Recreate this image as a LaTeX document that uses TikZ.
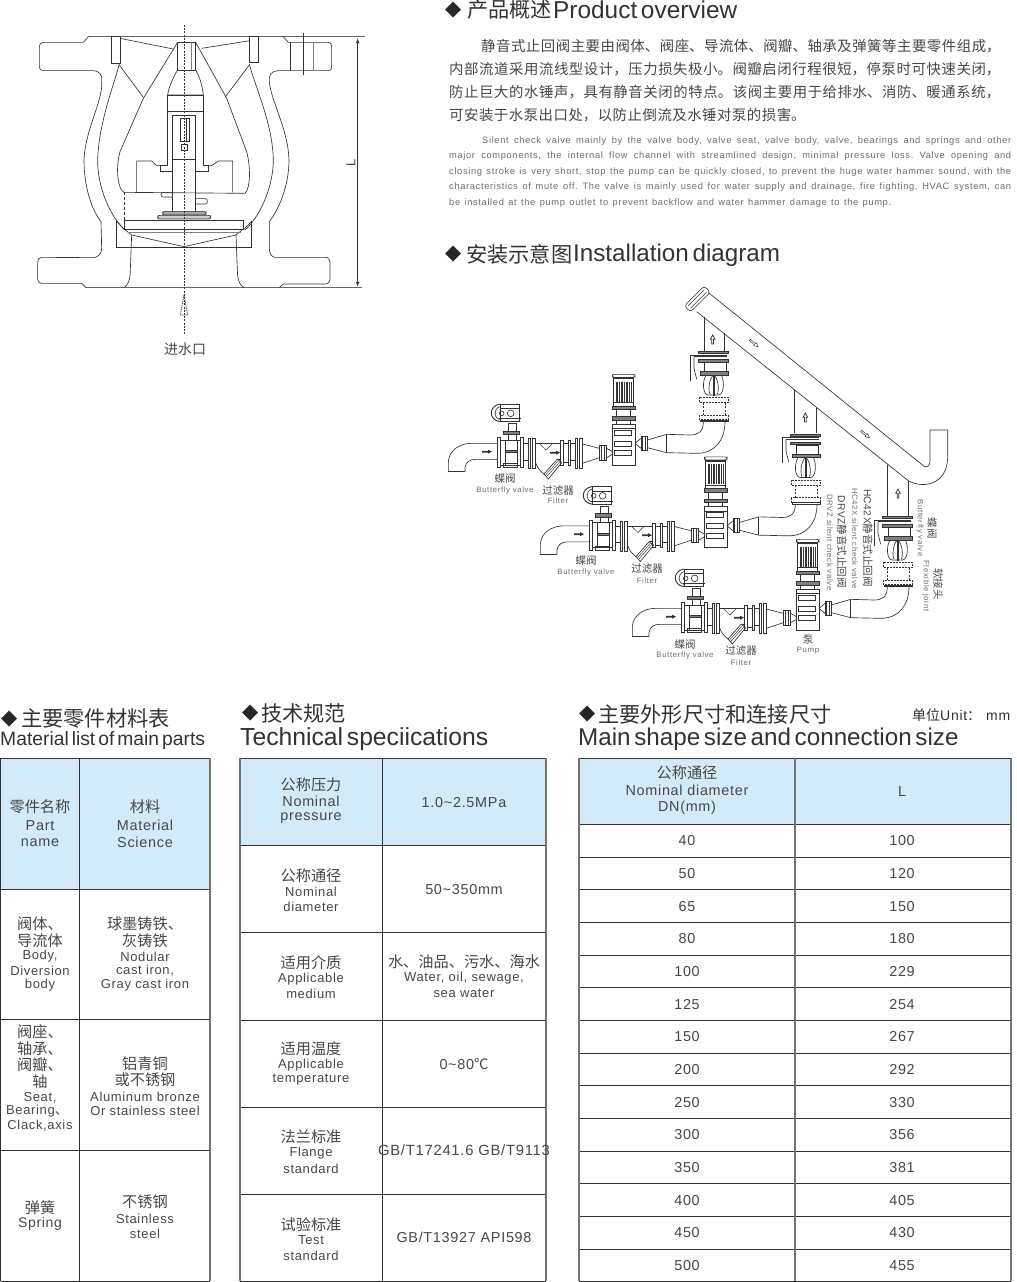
\documentclass[tikz,border=0pt]{standalone}
\usepackage{fontspec}
\setmainfont{Liberation Sans}
\newfontfamily\cjkf{Noto Sans CJK SC}
\newfontfamily\symf{DejaVu Sans}
\newfontfamily\hdf[WordSpace=0.55]{Liberation Sans}
\newfontfamily\lsf[LetterSpace=8]{Liberation Sans}
\newfontfamily\bdf[LetterSpace=7,WordSpace=0.9]{Liberation Sans}
\newfontfamily\tlf[LetterSpace=5]{Liberation Sans}
\definecolor{ink}{HTML}{333333}
\definecolor{txt}{HTML}{484848}
\definecolor{soft}{HTML}{6E6E6E}
\definecolor{head}{HTML}{D3EAF8}
\newcount\nid
\newcommand\zh[2]{{\cjkf\fontsize{#1}{#1}\selectfont #2}}
\newcommand\en[2]{{\tlf\fontsize{#1}{#1}\selectfont #2}}
% centred cell text
\newcommand\T[4]{\global\advance\nid by 1 \node[lab,text=txt] (t\the\nid) at (#1,#2+.4) {\en{#3}{#4}};}
\newcommand\Z[4]{\global\advance\nid by 1 \node[lab,text=txt] (t\the\nid) at (#1,#2) {\zh{#3}{#4}};}
\newcommand\St[4]{\global\advance\nid by 1 \node[lab,text=soft] (t\the\nid) at (#1,#2) {\lsf\fontsize{#3}{#3}\selectfont #4};}
% justified lines
\newcommand\ZL[4]{\global\advance\nid by 1 \node[anchor=west,inner sep=0pt,text=txt,text width=#3pt] (t\the\nid) at (#1,#2) {\cjkf\fontsize{14.4}{18}\selectfont\XeTeXlinebreaklocale "zh"\XeTeXlinebreakskip=0pt plus 4pt\relax\parfillskip=0pt\relax\pretolerance=-1\tolerance=10000\relax #4\par};}
\newcommand\EL[4]{\global\advance\nid by 1 \node[anchor=west,inner sep=0pt,text=soft] (t\the\nid) at (#1,#2) {\makebox[#3pt][s]{\bdf\frenchspacing\fontsize{9.3}{11}\selectfont #4}};}
% headings
\newcommand\Dm[3]{\global\advance\nid by 1 \node[anchor=west,inner sep=0pt,text=black!85] (t\the\nid) at (#1,#2) {\symf\fontsize{#3}{#3}\selectfont ◆};}
\newcommand\HL[3]{\global\advance\nid by 1 \node[anchor=west,inner sep=0pt,text=ink] (t\the\nid) at (#1,#2) {#3};}
\newcommand\hz[1]{\zh{21.2}{#1}}
\newcommand\he[2]{{\hdf\fontsize{#1}{#1}\selectfont #2}}
\tikzset{lab/.style={inner sep=0pt,align=center},
 ln/.style={draw=ink,line width=.65pt},
 thin2/.style={draw=ink,line width=.45pt},
 grid/.style={draw=ink,line width=.8pt},
 edge2/.style={draw=black!55,line width=1.1pt},
 hdr/.style={fill=head,draw=none},
 dk/.style={fill=black!50,draw=ink,line width=.4pt}}
\newcommand\uparrowhollow[2]{\draw[ln,line width=.75pt,fill=white] (#1-2.5,#2+14) -- (#1-2.5,#2) -- (#1-7,#2) -- (#1,#2-13) -- (#1+7,#2) -- (#1+2.5,#2) -- (#1+2.5,#2+14) -- cycle;}
\newcommand\rightarrowsolid[2]{\fill[ink] (#1,#2-2.5) -- (#1+18,#2-2.5) -- (#1+18,#2-6) -- (#1+30,#2) -- (#1+18,#2+6) -- (#1+18,#2+2.5) -- (#1,#2+2.5) -- cycle;}
\newcommand\pumpset{%
 % inlet elbow
 \path[ln] (25,575) -- (25,545) .. controls (27,510) and (60,490) .. (95,490) -- (172,490);
 \path[ln] (75,575) -- (75,562) .. controls (78,545) and (90,538) .. (108,538) -- (172,538);
 \path[ln] (25,575) -- (75,575);
 \rightarrowsolid{126}{515}
 % butterfly valve body
 \path[ln] (172,472) rectangle (182,562);
 \path[ln] (240,472) rectangle (250,562);
 \path[ln] (182,480) rectangle (240,555);
 \path[ln] (195,480) -- (195,555) (232,480) -- (232,555);
 \path[dk] (195,512) rectangle (232,518);
 \path[ln] (190,550) rectangle (232,563);
 \path[ln] (205,430) rectangle (230,453);
 \path[dk] (190,453) rectangle (237,463);
 \path[ln] (205,463) -- (205,480) (230,463) -- (230,480);
 % actuator head
 \path[ln] (180,372) rectangle (237,425);
 \path[ln,line width=.9pt] (180,372) .. controls (145,378) and (145,420) .. (180,425);
 \path[ln] (180,380) .. controls (160,385) and (160,415) .. (180,418);
 \path[ln] (212,400) circle (10);
 \path[ln] (185,400) circle (7);
 \path[ln] (180,385) -- (237,385) (178,415) -- (242,415);
 % next flange
 \path[ln] (250,490) -- (265,490) (250,540) -- (265,540);
 \path[ln] (265,475) rectangle (272,565);
 \path[ln] (277,475) rectangle (285,565);
 % Y strainer
 \path[ln] (285,490) -- (362,490);
 \path[thin2] (300,493) -- (318,510) -- (335,493);
 \path[ln] (285,540) .. controls (290,565) and (300,572) .. (313,583);
 \path[ln] (352,537) -- (362,537);
 \path[ln,fill=white] (312,582) -- (352,537) -- (365,548) -- (325,597) -- cycle;
 \path[thin2] (316,586) -- (356,541) (320,590) -- (360,545);
 \rightarrowsolid{330}{518}
 % flanges
 \path[ln] (362,482) rectangle (370,555);
 \path[ln] (385,482) rectangle (390,555);
 \path[ln] (370,490) rectangle (385,548);
 \path[ln] (390,490) -- (405,490) (390,540) -- (405,540);
 \path[ln] (405,475) rectangle (413,565);
 \path[ln] (417,475) rectangle (427,565);
 % reducer to pump
 \path[ln] (427,492) -- (478,505) (427,550) -- (478,533);
 \path[ln] (478,497) rectangle (500,540);
 \path[ln] (484,497) -- (484,540) (494,497) -- (494,540);
 \path[ln] (500,505) -- (517,515) (500,533) -- (517,523);
 % pump
 \path[ln] (517,432) rectangle (585,555);
 \path[ln] (517,445) -- (585,445);
 \path[ln,line width=.8pt] (524,450) rectangle (575,465);
 \path[ln,line width=.8pt] (524,483) rectangle (575,498);
 \path[ln,line width=.8pt] (524,512) rectangle (575,527);
 \path[ln] (530,420) -- (530,432) (572,420) -- (572,432);
 \path[dk] (517,410) rectangle (585,420);
 \path[ln] (530,388) -- (530,410) (572,388) -- (572,410);
 \path[dk] (517,378) rectangle (585,388);
 % motor
 \path[ln,rounded corners=2] (517,283) rectangle (585,292);
 \path[ln] (521,292) rectangle (581,378);
 \path[ln] (521,295) -- (581,295) (521,368) -- (581,368);
 \foreach \mx in {528,533,538,543,548,553,558,563,568,573}{\path[draw=ink,line width=.8pt] (\mx,305) -- (\mx,365);}
 % outlet
 \path[ln] (585,490) -- (603,475) (585,490) -- (603,505);
 \path[ln] (603,468) rectangle (622,510);
 \path[ln] (608,468) -- (608,510) (617,468) -- (617,510);
 \path[ln] (622,480) -- (680,463) (622,503) -- (680,518);
 \path[ln] (680,463) -- (680,518);
 \path[ln] (680,463) -- (750,465) .. controls (775,465) and (790,455) .. (790,425);
 \path[ln] (680,518) -- (770,520) .. controls (825,520) and (855,480) .. (855,425);
 % flexible joint
 \path[ln] (780,420) rectangle (865,425);
 \path[ln,dash pattern=on 2pt off 1pt] (778,405) rectangle (865,418);
 \path[ln,dash pattern=on 2pt off 1pt] (778,352) rectangle (865,368);
 \path[ln,dash pattern=on 2pt off 1.5pt] (790,368) -- (790,405) (855,368) -- (855,405);
 % check valve
 \path[ln] (797,287) .. controls (785,310) and (790,345) .. (805,345) -- (835,345) .. controls (850,345) and (855,310) .. (845,287);
 \path[ln] (820,285) .. controls (805,300) and (805,335) .. (810,342) (822,285) .. controls (837,300) and (837,335) .. (832,342);
 \path[dk] (819,287) rectangle (824,345);
 \path[dk] (780,275) rectangle (865,285);
 \path[ln] (792,247) rectangle (858,275);
 \path[dk] (775,238) rectangle (865,246);
 \path[dk] (775,214) rectangle (865,221);
 \path[ln] (750,302) -- (750,225) -- (860,225) (762,230) -- (860,230);
 \path[ln] (762,265) -- (770,298) (762,230) -- (762,265);
}
\begin{document}
\begin{tikzpicture}[x=1pt,y=-1pt]
\useasboundingbox (0,0) rectangle (1017,1282);
\fill[white] (0,0) rectangle (1017,1282);
% ---------- valve section (crop coordinates)
\begin{scope}[shift={(0,20)},x=.33333pt,y=-.33333pt]
 \path[draw=black!60,line width=.9pt] (265,50) -- (1095,50);
 \path[draw=black!60,line width=.9pt] (258,803) -- (1085,803);
 \path[ln] (265,50) -- (250,67) -- (130,67) .. controls (122,67) and (118,72) .. (118,80) -- (118,140) .. controls (118,148) and (122,152) .. (130,152) -- (280,152) .. controls (298,152) and (308,165) .. (305,185) .. controls (310,240) and (255,330) .. (252,420) .. controls (252,500) and (275,570) .. (303,605) -- (305,685) .. controls (305,700) and (295,712) .. (280,713) -- (125,712) .. controls (117,712) and (113,718) .. (113,726) -- (113,778) .. controls (113,786) and (118,790) .. (125,790) -- (245,790) -- (258,803);
 \path[ln] (850,50) -- (865,67) -- (985,67) .. controls (992,67) and (995,72) .. (995,80) -- (995,140) .. controls (995,148) and (992,152) .. (985,152) -- (835,152) .. controls (815,152) and (805,165) .. (808,185) .. controls (812,240) and (865,330) .. (867,420) .. controls (867,500) and (835,570) .. (808,605) -- (808,685) .. controls (808,700) and (815,712) .. (825,712) -- (975,712) .. controls (985,712) and (990,718) .. (990,726) -- (990,778) .. controls (990,786) and (985,792) .. (975,792) -- (850,792) -- (838,803);
 % inner wall
 \path[ln] (358,132) .. controls (340,200) and (296,310) .. (293,420) .. controls (292,500) and (330,590) .. (375,630);
 \path[ln] (748,132) .. controls (765,200) and (818,310) .. (820,420) .. controls (820,500) and (780,590) .. (735,630);
 % inlet
 \path[ln] (395,645) -- (391,750) .. controls (390,780) and (385,795) .. (372,803);
 \path[ln] (708,645) -- (712,750) .. controls (713,780) and (718,795) .. (732,803);
 % seat and disc
 \path[ln] (350,603) -- (350,682) -- (755,682) -- (755,603);
 \path[ln] (350,603) -- (372,628) (755,603) -- (732,628);
 \path[ln] (372,600) -- (730,600) -- (730,627) -- (372,627) -- cycle;
 \path[ln] (372,627) -- (395,645) (730,627) -- (708,645);
 \path[draw=black!50,line width=.6pt] (383,637) -- (722,637);
 \path[ln] (395,645) -- (552,680) -- (708,645);
 % ribs and seats
 \path[ln] (335,50) rectangle (360,130);
 \path[ln] (748,50) rectangle (775,128);
 \path[ln] (360,55) -- (520,87) (750,62) -- (605,85);
 \path[ln] (358,135) -- (430,232) (748,135) -- (675,232);
 % guide
 \path[ln] (533,67) -- (430,235) -- (360,395) .. controls (345,450) and (355,510) .. (372,517) -- (735,520) .. controls (752,505) and (752,440) .. (740,395) -- (680,235) -- (587,67);
 \path[ln] (533,67) rectangle (587,150);
 \path[draw=black!50,line width=.6pt] (575,67) -- (575,150);
 \path[ln] (533,150) .. controls (520,170) and (505,205) .. (503,225) -- (610,225) .. controls (608,205) and (600,170) .. (587,150);
 \path[ln] (503,225) rectangle (610,275);
 \path[ln] (503,275) -- (503,437) -- (480,437) -- (480,455) -- (518,455);
 \path[ln] (610,275) -- (610,437) -- (625,437) -- (625,455) -- (587,455);
 \path[ln] (518,575) -- (518,285) -- (587,285) -- (587,575);
 \path[ln] (518,418) -- (587,418);
 \path[ln] (540,295) rectangle (567,365);
 \path[ln] (558,295) -- (558,365);
 \path[ln] (545,372) rectangle (562,390);
 % spring housing
 \path[ln] (410,517) -- (410,423) -- (455,423) -- (470,437) -- (503,437);
 \path[ln] (698,517) -- (698,423) -- (655,423) -- (635,437) -- (610,437);
 \path[ln,dash pattern=on 3pt off 2pt] (372,517) -- (372,600);
 \path[ln,rounded corners=2] (518,517) -- (483,517) -- (483,531) -- (518,531);
 \path[ln,rounded corners=2] (587,536) -- (622,536) -- (622,552) -- (587,552);
 \path[ln,fill=black!35,rounded corners=2] (488,574) rectangle (618,585);
 \path[ln,fill=black!20,rounded corners=2] (473,586) rectangle (632,597);
 % right bolt
 \path[ln] (870,67) -- (870,152);
 \path[draw=black!50,line width=.9pt] (940,67) -- (940,152);
 \path[ln] (910,40) -- (910,165);
 % dimension
 \coordinate (dimA) at (1073,55);
 \coordinate (dimB) at (1073,800);
 \path[ln,line width=.7pt,<->,>=latex] (dimA) -- (dimB);
 % centre line and inlet mark
 \path[draw=ink,line width=.5pt,dash pattern=on 2pt off 1.2pt] (553,15) -- (553,945);
 \path[draw=ink,line width=.65pt,dash pattern=on 1.2pt off .8pt] (552,825) -- (541,885) -- (563,885) -- cycle;
\end{scope}
\node[lab,text=txt,rotate=90] (dimL) at (351,163) {\en{13}{L}};
\Z{185}{349}{14}{进水口}
% ---------- text block
\Dm{445}{10}{21}
\HL{467}{10}{\hz{产品概述}}
\HL{553}{10}{\he{24.4}{Product overview}}
\ZL{481}{46}{522}{静音式止回阀主要由阀体、阀座、导流体、阀瓣、轴承及弹簧等主要零件组成，}
\ZL{449}{69}{554}{内部流道采用流线型设计，压力损失极小。阀瓣启闭行程很短，停泵时可快速关闭，}
\ZL{449}{92}{554}{防止巨大的水锤声，具有静音关闭的特点。该阀主要用于给排水、消防、暖通系统，}
\ZL{449}{115}{359}{可安装于水泵出口处，以防止倒流及水锤对泵的损害。}
\EL{482}{141}{529}{Silent check valve mainly by the valve body, valve seat, valve body, valve, bearings and springs and other}
\EL{449}{156.5}{562}{major components, the internal flow channel with streamlined design, minimal pressure loss. Valve opening and}
\EL{449}{172}{562}{closing stroke is very short, stop the pump can be quickly closed, to prevent the huge water hammer sound, with the}
\EL{449}{187.5}{562}{characteristics of mute off. The valve is mainly used for water supply and drainage, fire fighting, HVAC system, can}
\EL{449}{203}{442}{be installed at the pump outlet to prevent backflow and water hammer damage to the pump.}
\Dm{445}{254}{21}
\HL{466}{254}{\hz{安装示意图}}
\HL{573}{255.5}{\he{24.2}{Installation diagram}}
% ---------- installation: three sets
\begin{scope}[shift={(440,280)},x=.33333pt,y=-.33333pt]\pumpset\end{scope}
\begin{scope}[shift={(532,362.5)},x=.33333pt,y=-.33333pt]\pumpset\end{scope}
\begin{scope}[shift={(624,445)},x=.33333pt,y=-.33333pt]\pumpset\end{scope}
% main pipe and risers
\begin{scope}[shift={(680,280)},x=.33333pt,y=-.33333pt]
 \path[ln,fill=white,rotate around={45:(52,57)},rounded corners=3pt] (10,44) rectangle (94,70);
 \path[thin2,rotate around={45:(52,57)}] (18,52) -- (86,52) (18,62) -- (86,62);
 \path[ln] (88,40) -- (725,553) .. controls (738,568) and (750,562) .. (750,540) -- (750,450) -- (803,450) -- (803,535) .. controls (800,610) and (735,628) .. (686,603) -- (50,95);
 \path[ln] (72,110) -- (72,215) (133,158) -- (133,215);
 \path[ln] (342,330) -- (342,460) (408,382) -- (408,460);
 \path[ln] (622,555) -- (622,710) (686,603) -- (686,710);
 \uparrowhollow{98}{178}
 \uparrowhollow{376}{412}
 \uparrowhollow{654}{640}
 \begin{scope}[shift={(222,190)},rotate=-39]
  \path[thin2] (-16,-2.5) -- (4,-2.5) -- (4,-6) -- (16,0) -- (4,6) -- (4,2.5) -- (-16,2.5) -- cycle;
 \end{scope}
 \begin{scope}[shift={(556,463)},rotate=-39]
  \path[thin2] (-16,-2.5) -- (4,-2.5) -- (4,-6) -- (16,0) -- (4,6) -- (4,2.5) -- (-16,2.5) -- cycle;
 \end{scope}
\end{scope}
% labels
\Z{505}{479}{10.5}{蝶阀}\St{505}{490}{7.8}{Butterfly valve}
\Z{558}{491}{10.5}{过滤器}\St{558}{501}{7.8}{Filter}
\Z{586}{561}{10.5}{蝶阀}\St{586}{572}{7.8}{Butterfly valve}
\Z{647}{569}{10.5}{过滤器}\St{647}{581}{7.8}{Filter}
\Z{685}{645}{10.5}{蝶阀}\St{685}{655}{7.8}{Butterfly valve}
\Z{741}{651}{10.5}{过滤器}\St{741}{663}{7.8}{Filter}
\Z{808}{640}{10.5}{泵}\St{808}{651}{7.8}{Pump}
\node[lab,text=txt,rotate=-90] (rA) at (868,538) {\en{10.2}{HC42X}\zh{10.5}{静音式止回阀}};
\node[lab,text=soft,rotate=-90] (rB) at (855,538.5) {\lsf\fontsize{7.8}{8}\selectfont HC42X silent check valve};
\node[lab,text=txt,rotate=-90] (rC) at (842,541.5) {\en{10.2}{DRVZ}\zh{10.5}{静音式止回阀}};
\node[lab,text=soft,rotate=-90] (rD) at (830,542.5) {\lsf\fontsize{7.8}{8}\selectfont DRVZ silent check valve};
\node[lab,text=txt,rotate=-90] (rE) at (932,528) {\zh{10.5}{蝶阀}};
\node[lab,text=soft,rotate=-90] (rF) at (920,528) {\lsf\fontsize{7.8}{8}\selectfont Butterfly valve};
\node[lab,text=txt,rotate=-90] (rG) at (938,584) {\zh{10.5}{软接头}};
\node[lab,text=soft,rotate=-90] (rH) at (926,586) {\lsf\fontsize{7.8}{8}\selectfont Flexible joint};
% ---------- table headings
\Dm{1}{719}{21}
\HL{21}{719}{\hz{主要零件材料表}}
\HL{0}{741}{\he{19.3}{Material list of main parts}}
\Dm{242}{713}{21}
\HL{261}{713}{\hz{技术规范}}
\HL{240}{739.5}{\he{24.7}{Technical speciications}}
\Dm{579}{714}{21}
\HL{598}{714}{\hz{主要外形尺寸和连接尺寸}}
\HL{578}{739.5}{\he{24.2}{Main shape size and connection size}}
\HL{912}{715}{\zh{14}{单位}\en{14}{Unit}\zh{14}{：}\hspace{5pt}\en{14}{mm}}
% ---------- table 1
\path[hdr] (0.5,758) rectangle (210,889);
\path[grid] (0.5,758) -- (210,758) (0.5,889) -- (210,889) (0.5,1019) -- (210,1019) (0.5,1150) -- (210,1150) (0.5,1281) -- (210,1281);
\path[grid] (0.5,758) -- (0.5,1281) (79,758) -- (79,1281);
\path[edge2] (210,758) -- (210,1281);
\Z{40}{807}{15.2}{零件名称}\T{40}{825}{14.4}{Part}\T{40}{842}{14.4}{name}
\Z{145}{807}{15.2}{材料}\T{145}{825}{14.4}{Material}\T{145}{842}{14.4}{Science}
\Z{40}{924}{15.2}{阀体、}\Z{40}{941}{15.2}{导流体}\T{40}{956}{13}{Body,}\T{40}{970}{13}{Diversion}\T{40}{985}{13}{body}
\Z{145}{924}{15.2}{球墨铸铁、}\Z{145}{941}{15.2}{灰铸铁}\T{145}{956}{13}{Nodular}\T{145}{970}{13}{cast iron,}\T{145}{985}{13}{Gray cast iron}
\Z{40}{1032}{15.2}{阀座、}\Z{40}{1049}{15.2}{轴承、}\Z{40}{1065}{15.2}{阀瓣、}\Z{40}{1082}{15.2}{轴}
\T{40}{1097}{13}{Seat,}\node[lab,text=txt] (seatb) at (37,1111) {\en{13}{Bearing}\zh{13}{、}};\T{40}{1125}{13}{Clack,axis}
\Z{145}{1064}{15.2}{铝青铜}\Z{145}{1080}{15.2}{或不锈钢}\T{145}{1096}{13}{Aluminum bronze}\T{145}{1110}{13}{Or stainless steel}
\Z{40}{1208}{15.2}{弹簧}\T{40}{1223}{14}{Spring}
\Z{145}{1202}{15.2}{不锈钢}\T{145}{1218}{13}{Stainless}\T{145}{1233}{13}{steel}
% ---------- table 2
\path[hdr] (240,758) rectangle (546,845);
\path[grid] (240,758) -- (546,758) (240,845) -- (546,845) (240,932) -- (546,932) (240,1020) -- (546,1020) (240,1107) -- (546,1107) (240,1194) -- (546,1194) (240,1281) -- (546,1281);
\path[grid] (382,758) -- (382,1281);
\path[edge2] (240,758) -- (240,1281) (546,758) -- (546,1281);
\Z{311}{785}{15.2}{公称压力}\T{311}{801}{14.4}{Nominal}\T{311}{818}{14.4}{pressure}\T{464}{802}{14.4}{1.0\textasciitilde2.5MPa}
\Z{311}{876}{15.2}{公称通径}\T{311}{891}{13}{Nominal}\T{311}{906}{13}{diameter}\T{464}{889}{14.4}{50\textasciitilde350mm}
\Z{311}{963}{15.2}{适用介质}\T{311}{979}{13}{Applicable}\T{311}{993}{13}{medium}
\Z{464}{962}{15.2}{水、油品、污水、海水}\T{464}{978}{13}{Water, oil, sewage,}\T{464}{993}{13}{sea water}
\Z{311}{1049}{15.2}{适用温度}\T{311}{1065}{13}{Applicable}\T{311}{1079}{13}{temperature}\node[lab,text=txt] (tmp) at (464,1064) {\en{14.4}{0\textasciitilde80}\zh{14.4}{℃}};
\Z{311}{1137}{15.2}{法兰标准}\T{311}{1153}{13}{Flange}\T{311}{1168}{13}{standard}\T{464}{1150}{14.8}{GB/T17241.6 GB/T9113}
\Z{311}{1225}{15.2}{试验标准}\T{311}{1240}{13}{Test}\T{311}{1255}{13}{standard}\T{464}{1237}{14.4}{GB/T13927 API598}
% ---------- table 3
\path[hdr] (579,758) rectangle (1011,824);
\foreach \yy in {758,824,857,889,922,955,987,1020,1053,1085,1118,1151,1183,1216,1249,1281}{\path[grid] (579,\yy) -- (1011,\yy);}
\path[edge2] (579,758) -- (579,1281) (795,758) -- (795,1281) (1011,758) -- (1011,1281);
\Z{687}{773}{15.2}{公称通径}\T{687}{790}{14.4}{Nominal diameter}\T{687}{807}{14.4}{DN(mm)}\T{902}{791}{14.4}{L}
\T{687}{840}{14.4}{40}\T{902}{840}{14.4}{100}
\T{687}{873}{14.4}{50}\T{902}{873}{14.4}{120}
\T{687}{906}{14.4}{65}\T{902}{906}{14.4}{150}
\T{687}{938}{14.4}{80}\T{902}{938}{14.4}{180}
\T{687}{971}{14.4}{100}\T{902}{971}{14.4}{229}
\T{687}{1004}{14.4}{125}\T{902}{1004}{14.4}{254}
\T{687}{1036}{14.4}{150}\T{902}{1036}{14.4}{267}
\T{687}{1069}{14.4}{200}\T{902}{1069}{14.4}{292}
\T{687}{1102}{14.4}{250}\T{902}{1102}{14.4}{330}
\T{687}{1134}{14.4}{300}\T{902}{1134}{14.4}{356}
\T{687}{1167}{14.4}{350}\T{902}{1167}{14.4}{381}
\T{687}{1200}{14.4}{400}\T{902}{1200}{14.4}{405}
\T{687}{1232}{14.4}{450}\T{902}{1232}{14.4}{430}
\T{687}{1265}{14.4}{500}\T{902}{1265}{14.4}{455}
\end{tikzpicture}
\end{document}
